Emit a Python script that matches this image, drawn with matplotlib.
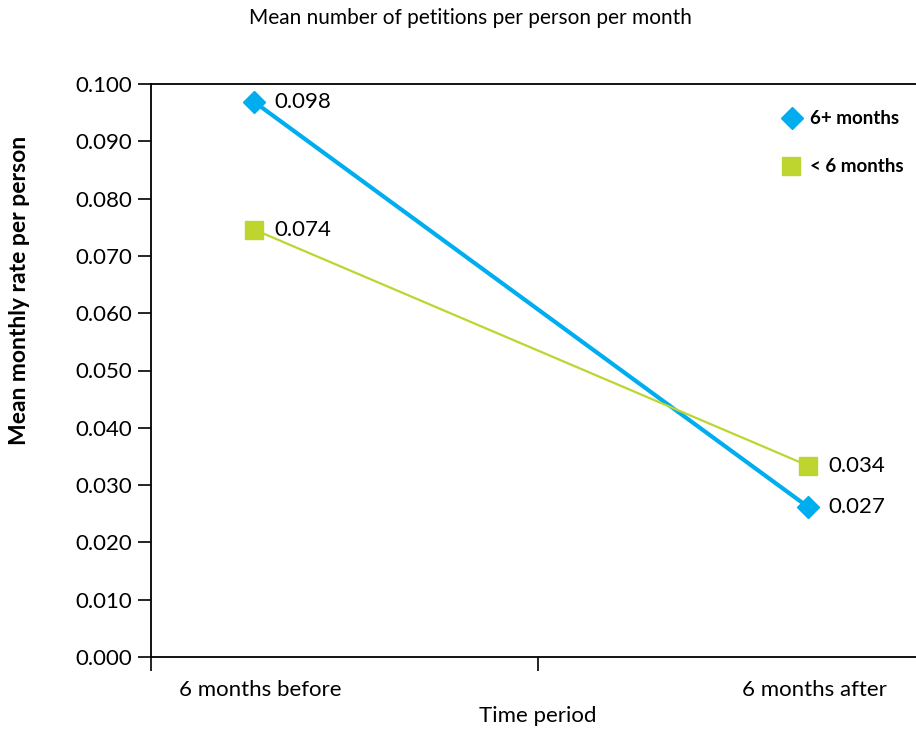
import matplotlib
matplotlib.use("Agg")
import matplotlib.pyplot as plt

plt.rcParams['font.family'] = ['Lato', 'DejaVu Sans']

# data (marker positions, labels as printed)
periods = ["6 months before", "6 months after"]
series_names = ["6+ months", "< 6 months"]
rate_6plus = [0.0969, 0.0262]
rate_under6 = [0.0746, 0.0334]
label_6plus = ["0.098", "0.027"]
label_under6 = ["0.074", "0.034"]

blue = "#00AEEF"
green = "#BED530"

W, H = 916, 729
fig = plt.figure(figsize=(W / 100, H / 100), dpi=100)
left, right, top, bottom = 151, 916, 84, 657
ax = fig.add_axes([left / W, 1 - bottom / H, (right - left) / W, (bottom - top) / H])

x = [0, 1]
ax.plot(x, rate_6plus, color=blue, lw=3, marker="D", ms=11, mec=blue, mfc=blue, zorder=3)
ax.plot(x, rate_under6, color=green, lw=1.6, marker="s", ms=12.5, mec=green, mfc=green, zorder=3)

for xi, v, t in zip(x, rate_6plus, label_6plus):
    ax.annotate(t, (xi, v), xytext=(15, 0), textcoords="offset points",
                va="center", ha="left", fontsize=16)
for xi, v, t in zip(x, rate_under6, label_under6):
    ax.annotate(t, (xi, v), xytext=(15, 0), textcoords="offset points",
                va="center", ha="left", fontsize=16)

# x positions: 0 -> 254px, 1 -> 808px
px_per = 808 - 254
x0 = (left - 254) / px_per
x1 = (right - 254) / px_per
ax.set_xlim(x0, x1)
ax.set_ylim(0, 0.100)
ax.set_yticks([i / 100 for i in range(11)])
ax.set_yticklabels([f"{i / 100:.3f}" for i in range(11)], fontsize=16)

ax.set_xticks([x0, (538 - 254) / px_per])
ax.set_xticklabels([])
ax.tick_params(axis="x", length=10, width=1.2, direction="out")
ax.tick_params(axis="y", length=9.5, width=1.2, direction="out", pad=4)

for xi, name in zip(x, periods):
    ax.text(xi + 0.012, -0.0057, name, ha="center", va="center", fontsize=16)

ax.spines["right"].set_visible(False)
for s in ["left", "top", "bottom"]:
    ax.spines[s].set_linewidth(1.3)

fig.text(538 / W, 1 - 716 / H, "Time period", ha="center", va="center", fontsize=16)
fig.text(470 / W, 1 - 18 / H, "Mean number of petitions per person per month",
         ha="center", va="center", fontsize=15)
fig.text(20 / W, 1 - 290 / H, "Mean monthly rate per person", rotation=90,
         ha="center", va="center", fontsize=16.5, fontweight="bold")

# legend drawn as markers + text in axes fraction coords
def fx(px):
    return (px - left) / (right - left)

def fy(py):
    return (bottom - py) / (bottom - top)

ax.plot([fx(792)], [fy(118)], marker="D", ms=11.5, color=blue, transform=ax.transAxes, clip_on=False)
ax.plot([fx(791)], [fy(166)], marker="s", ms=12.5, color=green, transform=ax.transAxes, clip_on=False)
ax.text(fx(810), fy(118), series_names[0], transform=ax.transAxes, va="center",
        ha="left", fontsize=13.5, fontweight="bold")
ax.text(fx(810), fy(166), series_names[1], transform=ax.transAxes, va="center",
        ha="left", fontsize=13.5, fontweight="bold")

fig.savefig("out.png", dpi=100)
